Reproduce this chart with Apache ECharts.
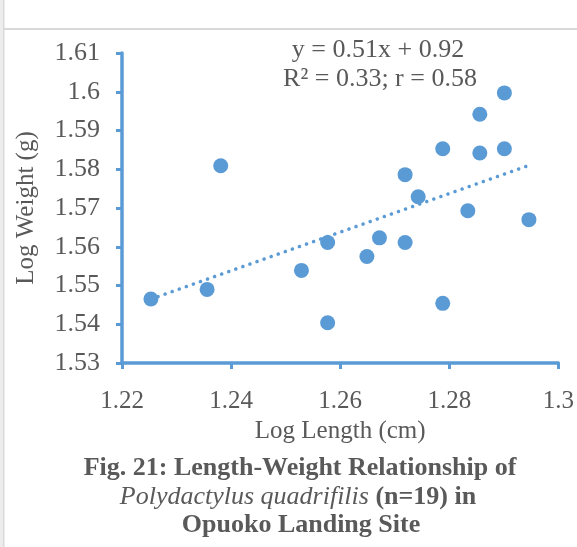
<!DOCTYPE html>
<html>
<head>
<meta charset="utf-8">
<script src="https://cdn.jsdelivr.net/npm/echarts@6/dist/echarts.min.js"></script>
<style>
html,body{margin:0;padding:0;background:#fff;}
#chart{width:577px;height:547px;}
</style>
</head>
<body>
<div id="chart"></div>
<script>
// Data
var logLength = [1.2253, 1.2356, 1.2381, 1.2529, 1.2577, 1.2577, 1.2649, 1.2672, 1.2719, 1.2719,
                 1.2743, 1.2788, 1.2788, 1.2834, 1.2856, 1.2856, 1.2901, 1.2901, 1.2946];
var logWeight = [1.5465, 1.5490, 1.5809, 1.5539, 1.5611, 1.5404, 1.5575, 1.5623, 1.5611, 1.5786,
                 1.5729, 1.5454, 1.5853, 1.5693, 1.5942, 1.5842, 1.5997, 1.5853, 1.5670];
var trendX = [1.2253, 1.2946];
var trendY = [1.5465, 1.5810];
var xTicks = [1.22, 1.24, 1.26, 1.28, 1.3];
var yTicks = [1.53, 1.54, 1.55, 1.56, 1.57, 1.58, 1.59, 1.6, 1.61];
var equationLines = ['y = 0.51x + 0.92', 'R² = 0.33; r = 0.58'];

var pts = logLength.map(function (x, i) { return [x, logWeight[i]]; });
var trend = trendX.map(function (x, i) { return [x, trendY[i]]; });

var blue = '#5B9BD5';
var txt = '#595959';
var serif = '"Liberation Serif", "Times New Roman", serif';

var chart = echarts.init(document.getElementById('chart'), null, {renderer: 'canvas'});
chart.setOption({
  animation: false,
  backgroundColor: '#fff',
  grid: {left: 122, right: 15, top: 53, bottom: 184},
  xAxis: {
    type: 'value', min: xTicks[0], max: xTicks[xTicks.length - 1], interval: 0.02,
    name: 'Log Length (cm)', nameLocation: 'middle', nameGap: 53,
    nameTextStyle: {fontFamily: serif, fontSize: 25, color: txt},
    axisLine: {show: true, lineStyle: {color: blue, width: 3.5}},
    axisTick: {show: true, length: 6, lineStyle: {color: blue, width: 3}},
    axisLabel: {fontFamily: serif, fontSize: 25, color: txt, margin: 26,
      formatter: function (v) { return String(+v.toFixed(2)); }},
    splitLine: {show: false}
  },
  yAxis: {
    type: 'value', min: yTicks[0], max: yTicks[yTicks.length - 1], interval: 0.01,
    name: 'Log Weight (g)', nameLocation: 'middle', nameGap: 83, nameRotate: 90,
    nameTextStyle: {fontFamily: serif, fontSize: 25, color: txt},
    axisLine: {show: true, lineStyle: {color: blue, width: 3.5}},
    axisTick: {show: true, length: 6, lineStyle: {color: blue, width: 3}},
    axisLabel: {fontFamily: serif, fontSize: 26, color: txt, margin: 22,
      formatter: function (v) { return String(+v.toFixed(2)); }},
    splitLine: {show: false}
  },
  series: [
    {
      type: 'line', data: trend, showSymbol: false, symbol: 'none', z: 1,
      lineStyle: {color: blue, width: 3.5, type: [0.1, 7.4], cap: 'round'}
    },
    {
      type: 'scatter', data: pts, symbol: 'circle', symbolSize: 15, z: 2,
      itemStyle: {color: blue, opacity: 1}
    }
  ],
  graphic: [
    {type: 'rect', shape: {x: 0, y: 0, width: 2, height: 547}, style: {fill: '#ededed'}, silent: true},
    {type: 'line', shape: {x1: 3.5, y1: 0, x2: 3.5, y2: 547}, style: {stroke: '#d9d9d9', lineWidth: 2}, silent: true},
    {type: 'line', shape: {x1: 3, y1: 29, x2: 577, y2: 29}, style: {stroke: '#d9d9d9', lineWidth: 2}, silent: true},
    {type: 'text', style: {text: equationLines[0], x: 378, y: 50, align: 'center', verticalAlign: 'middle',
      font: '26px ' + serif, fill: txt}},
    {type: 'text', style: {text: equationLines[1], x: 380, y: 79, align: 'center', verticalAlign: 'middle',
      font: '26px ' + serif, fill: txt}},
    {type: 'text', style: {text: 'Fig. 21: Length-Weight Relationship of', x: 300, y: 468, align: 'center', verticalAlign: 'middle',
      font: 'bold 26px ' + serif, fill: txt}},
    {type: 'text', style: {
      rich: {
        i: {font: 'italic 26px ' + serif, fill: txt},
        b: {font: 'bold 26px ' + serif, fill: txt}
      },
      fill: txt,
      text: '{i|Polydactylus quadrifilis }{b|(n=19) in}', x: 298, y: 497, align: 'center', verticalAlign: 'middle'}},
    {type: 'text', style: {text: 'Opuoko Landing Site', x: 301, y: 525, align: 'center', verticalAlign: 'middle',
      font: 'bold 26px ' + serif, fill: txt}}
  ]
});
</script>
</body>
</html>
